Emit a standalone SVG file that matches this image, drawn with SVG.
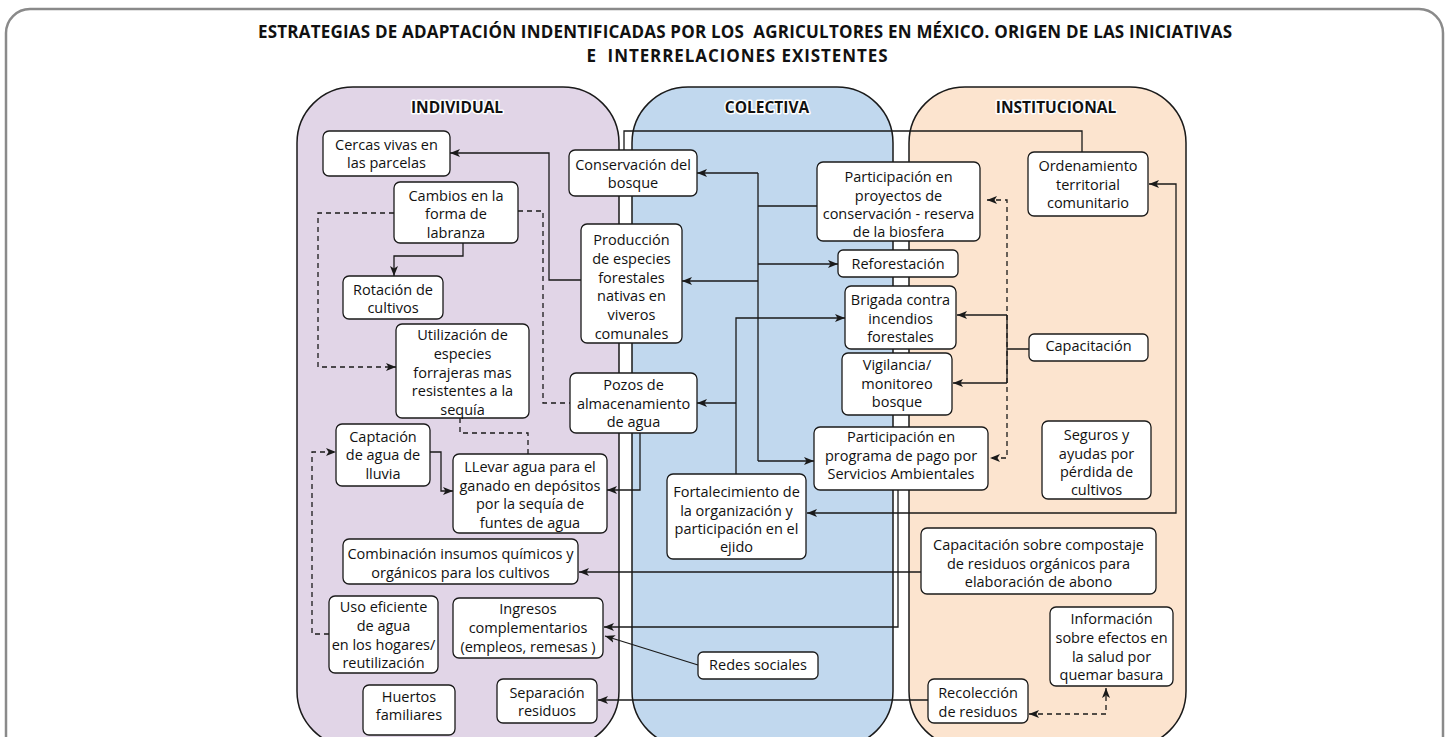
<svg xmlns="http://www.w3.org/2000/svg" width="1449" height="737" viewBox="0 0 1449 737">
<style>
.col{stroke:#1a1a1a;stroke-width:1.5}
.hd{font-family:"Open Sans","DejaVu Sans",sans-serif;font-size:15.5px;font-weight:bold;fill:#111;text-anchor:middle;stroke:#fff;stroke-width:3;paint-order:stroke;stroke-linejoin:round}
.ttl{font-family:"Open Sans","DejaVu Sans",sans-serif;font-size:17px;font-weight:bold;fill:#111;text-anchor:middle}
.box{fill:#fff;stroke:#1a1a1a;stroke-width:1.3}
.t{font-family:"Open Sans","DejaVu Sans",sans-serif;font-size:14.5px;fill:#111;text-anchor:middle}
.c{fill:none;stroke:#1a1a1a;stroke-width:1.3}
.d{stroke-dasharray:5 4}
.a{marker-end:url(#ah)}
.s{marker-start:url(#as)}
</style>
<defs>
<marker id="ah" markerUnits="userSpaceOnUse" markerWidth="12" markerHeight="10" refX="10" refY="4" orient="auto" viewBox="0 0 12 8">
<path d="M0,0 L10,4 L0,8 L2.5,4 z" fill="#1a1a1a"/>
</marker>
<marker id="as" markerUnits="userSpaceOnUse" markerWidth="12" markerHeight="10" refX="0" refY="4" orient="auto" viewBox="0 0 12 8">
<path d="M10,0 L0,4 L10,8 L7.5,4 z" fill="#1a1a1a"/>
</marker>
</defs>
<rect x="6" y="9" width="1437" height="760" rx="24" fill="#fff" stroke="#8a8a8a" stroke-width="2.5"/>
<text class="ttl" x="745" y="38" textLength="974" xml:space="preserve">ESTRATEGIAS DE ADAPTACIÓN INDENTIFICADAS POR LOS  AGRICULTORES EN MÉXICO. ORIGEN DE LAS INICIATIVAS</text>
<text class="ttl" x="737" y="62" textLength="301" xml:space="preserve">E  INTERRELACIONES EXISTENTES</text>
<g id="columns">
<rect class="col" x="297" y="87" width="322" height="660" rx="56" fill="#e1d5e7"/>
<rect class="col" x="632" y="87" width="261" height="660" rx="56" fill="#c1d8ee"/>
<rect class="col" x="909" y="87" width="277" height="660" rx="56" fill="#fce4cf"/>
<text class="hd" x="457" y="113">INDIVIDUAL</text>
<text class="hd" x="767" y="113">COLECTIVA</text>
<text class="hd" x="1056" y="113">INSTITUCIONAL</text>
</g>
<g id="connectors">
<path class="c a" d="M581,280 H549 V153 H450"/>
<path class="c a" d="M463,243 V256 H394 V276"/>
<path class="c d a" d="M394,213 H318 V367 H396"/>
<path class="c d" d="M518,211 H543 V403 H570"/>
<path class="c d" d="M460,418 V433 H528 V454"/>
<path class="c a" d="M430,452 H441 V491 H453"/>
<path class="c d a" d="M329,634 H312 V452 H336"/>
<path class="c a" d="M640,433 V490 H607"/>
<path class="c a" d="M921,572 H579"/>
<path class="c a" d="M898,490 V627 H604"/>
<path class="c a" d="M698,665 L605,636"/>
<path class="c a" d="M928,700 H598"/>
<path class="c d a s" d="M1029,714 H1106 V688"/>
<path class="c" d="M1082,152 V131 H624 V150"/>
<path class="c" d="M817,206 H758 M758,173 V461"/>
<path class="c a" d="M758,173 H697"/>
<path class="c a" d="M758,264 H838"/>
<path class="c a" d="M758,281 H682"/>
<path class="c a" d="M758,461 H814"/>
<path class="c a" d="M736,474 V318 H845"/>
<path class="c a" d="M736,403 H697"/>
<path class="c" d="M1029,349 H1007 M1007,315 V383"/>
<path class="c a" d="M1007,315 H957"/>
<path class="c a" d="M1007,383 H953"/>
<path class="c d a s" d="M987,200 H1007 V458 H990"/>
<path class="c a s" d="M807,513 H1176 V184 H1149"/>
</g>
<g id="n1"><rect class="box" x="323" y="131" width="127" height="45" rx="6"/><text class="t" x="386.5" y="150.1">Cercas vivas en<tspan x="386.5" dy="18.3">las parcelas</tspan></text></g>
<g id="n2"><rect class="box" x="394" y="182" width="124" height="61" rx="6"/><text class="t" x="456" y="201.1">Cambios en la<tspan x="456" dy="18.3">forma de</tspan><tspan x="456" dy="18.3">labranza</tspan></text></g>
<g id="n3"><rect class="box" x="343" y="276" width="100" height="43" rx="6"/><text class="t" x="393" y="295.1">Rotación de<tspan x="393" dy="18">cultivos</tspan></text></g>
<g id="n4"><rect class="box" x="396" y="324" width="133" height="94" rx="6"/><text class="t" x="462.5" y="340.1">Utilización de<tspan x="462.5" dy="18.7">especies</tspan><tspan x="462.5" dy="18.7">forrajeras mas</tspan><tspan x="462.5" dy="18.7">resistentes a la</tspan><tspan x="462.5" dy="18.7">sequía</tspan></text></g>
<g id="n5"><rect class="box" x="336" y="424" width="94" height="62" rx="6"/><text class="t" x="383" y="442.1">Captación<tspan x="383" dy="18.3">de agua de</tspan><tspan x="383" dy="18.3">lluvia</tspan></text></g>
<g id="n6"><rect class="box" x="453" y="454" width="154" height="79" rx="6"/><text class="t" x="530" y="472.1">LLevar agua para el<tspan x="530" dy="18.5">ganado en depósitos</tspan><tspan x="530" dy="18.5">por la sequía de</tspan><tspan x="530" dy="18.5">funtes de agua</tspan></text></g>
<g id="n7"><rect class="box" x="343" y="539" width="235" height="45" rx="6"/><text class="t" x="460.5" y="559.1">Combinación insumos químicos y<tspan x="460.5" dy="18.5">orgánicos para los cultivos</tspan></text></g>
<g id="n8"><rect class="box" x="329" y="596" width="109" height="77" rx="6"/><text class="t" x="383.5" y="612.1">Uso eficiente<tspan x="383.5" dy="18.7">de agua</tspan><tspan x="383.5" dy="18.7">en los hogares/</tspan><tspan x="383.5" dy="18.7">reutilización</tspan></text></g>
<g id="n9"><rect class="box" x="453" y="598" width="150" height="60" rx="6"/><text class="t" x="528" y="614.1">Ingresos<tspan x="528" dy="18.7">complementarios</tspan><tspan x="528" dy="18.7">(empleos, remesas )</tspan></text></g>
<g id="n10"><rect class="box" x="363" y="685" width="92" height="50" rx="6"/><text class="t" x="409" y="702.1">Huertos<tspan x="409" dy="18.3">familiares</tspan></text></g>
<g id="n11"><rect class="box" x="497" y="679" width="100" height="44" rx="6"/><text class="t" x="547" y="698.1">Separación<tspan x="547" dy="18.3">residuos</tspan></text></g>
<g id="n12"><rect class="box" x="569" y="150" width="128" height="46" rx="6"/><text class="t" x="633" y="170.1">Conservación del<tspan x="633" dy="18">bosque</tspan></text></g>
<g id="n13"><rect class="box" x="581" y="224" width="101" height="119" rx="6"/><text class="t" x="631.5" y="245.1">Producción<tspan x="631.5" dy="18.7">de especies</tspan><tspan x="631.5" dy="18.7">forestales</tspan><tspan x="631.5" dy="18.7">nativas en</tspan><tspan x="631.5" dy="18.7">viveros</tspan><tspan x="631.5" dy="18.7">comunales</tspan></text></g>
<g id="n14"><rect class="box" x="570" y="373" width="127" height="60" rx="6"/><text class="t" x="633.5" y="390.1">Pozos de<tspan x="633.5" dy="18.5">almacenamiento</tspan><tspan x="633.5" dy="18.5">de agua</tspan></text></g>
<g id="n15"><rect class="box" x="817" y="162" width="163" height="79" rx="6"/><text class="t" x="898.5" y="182.1">Participación en<tspan x="898.5" dy="18.4">proyectos de</tspan><tspan x="898.5" dy="18.4">conservación - reserva</tspan><tspan x="898.5" dy="18.4">de la biosfera</tspan></text></g>
<g id="n16"><rect class="box" x="838" y="250" width="120" height="27" rx="5"/><text class="t" x="898" y="269.1">Reforestación</text></g>
<g id="n17"><rect class="box" x="845" y="286" width="111" height="63" rx="6"/><text class="t" x="900.5" y="305.1">Brigada contra<tspan x="900.5" dy="18.4">incendios</tspan><tspan x="900.5" dy="18.4">forestales</tspan></text></g>
<g id="n18"><rect class="box" x="842" y="353" width="110" height="62" rx="6"/><text class="t" x="897" y="370.1">Vigilancia/<tspan x="897" dy="18.4">monitoreo</tspan><tspan x="897" dy="18.4">bosque</tspan></text></g>
<g id="n19"><rect class="box" x="814" y="427" width="174" height="63" rx="6"/><text class="t" x="901" y="442.1">Participación en<tspan x="901" dy="18.5">programa de pago por</tspan><tspan x="901" dy="18.5">Servicios Ambientales</tspan></text></g>
<g id="n20"><rect class="box" x="667" y="474" width="139" height="85" rx="6"/><text class="t" x="736.5" y="497.1">Fortalecimiento de<tspan x="736.5" dy="18.4">la organización y</tspan><tspan x="736.5" dy="18.4">participación en el</tspan><tspan x="736.5" dy="18.4">ejido</tspan></text></g>
<g id="n21"><rect class="box" x="698" y="652" width="120" height="27" rx="5"/><text class="t" x="758" y="670.1">Redes sociales</text></g>
<g id="n22"><rect class="box" x="1028" y="152" width="120" height="64" rx="6"/><text class="t" x="1088" y="171.1">Ordenamiento<tspan x="1088" dy="18.5">territorial</tspan><tspan x="1088" dy="18.5">comunitario</tspan></text></g>
<g id="n23"><rect class="box" x="1029" y="334" width="119" height="27" rx="5"/><text class="t" x="1088.5" y="351.1">Capacitación</text></g>
<g id="n24"><rect class="box" x="1042" y="421" width="109" height="78" rx="6"/><text class="t" x="1096.5" y="440.1">Seguros y<tspan x="1096.5" dy="18.4">ayudas por</tspan><tspan x="1096.5" dy="18.4">pérdida de</tspan><tspan x="1096.5" dy="18.4">cultivos</tspan></text></g>
<g id="n25"><rect class="box" x="921" y="528" width="235" height="66" rx="6"/><text class="t" x="1038.5" y="550.1">Capacitación sobre compostaje<tspan x="1038.5" dy="18.4">de residuos orgánicos para</tspan><tspan x="1038.5" dy="18.4">elaboración de abono</tspan></text></g>
<g id="n26"><rect class="box" x="1050" y="607" width="123" height="79" rx="6"/><text class="t" x="1111.5" y="624.1">Información<tspan x="1111.5" dy="18.7">sobre efectos en</tspan><tspan x="1111.5" dy="18.7">la salud por</tspan><tspan x="1111.5" dy="18.7">quemar basura</tspan></text></g>
<g id="n27"><rect class="box" x="928" y="679" width="100" height="44" rx="6"/><text class="t" x="978" y="698.1">Recolección<tspan x="978" dy="18.5">de residuos</tspan></text></g>
</svg>
